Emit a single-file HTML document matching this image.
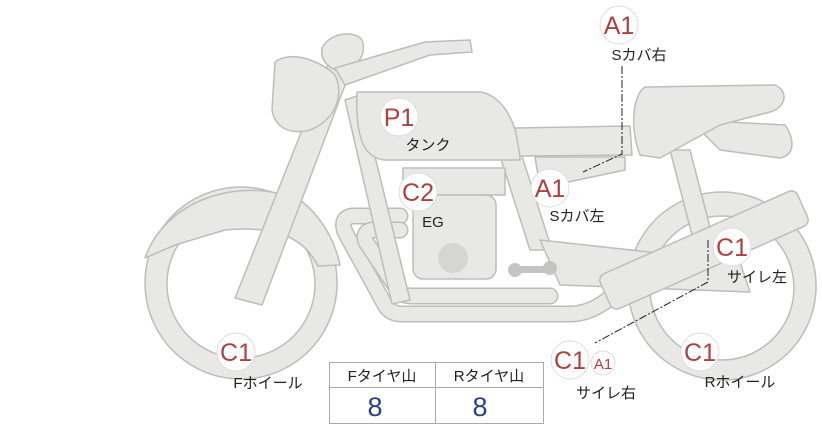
<!DOCTYPE html>
<html><head><meta charset="utf-8"><style>
html,body{margin:0;padding:0;background:#fff;width:822px;height:425px;overflow:hidden}
svg{display:block}
.t{font-family:"Liberation Sans","Noto Sans CJK JP",sans-serif;font-size:15px;fill:#222}
.c{font-family:"Liberation Sans","Noto Sans CJK JP",sans-serif;font-size:25px;fill:#b0403f}
</style></head><body>
<svg width="822" height="425" viewBox="0 0 822 425" xmlns="http://www.w3.org/2000/svg">
<g fill="#e8e8e6" stroke="#bdbdbb" stroke-width="1.5" stroke-linejoin="round">
<path fill-rule="evenodd" d="M722,192a94,94 0 1,0 0.1,0zM722,216a72,72 0 1,1 -0.1,0z"/>
<path fill-rule="evenodd" d="M241,187a96,96 0 1,0 0.1,0zM241,210a74,74 0 1,1 -0.1,0z"/>
<path d="M145,258 C165,200 240,175 300,200 C320,215 335,240 340,265 L318,266 C305,240 280,225 225,230 L175,245 Z"/>
<path d="M670,150 L690,150 L712,235 L692,235 Z"/>
<path d="M498,150 L520,150 L552,250 L530,250 Z"/>
<path d="M540,240 L740,262 L750,292 L560,285 Z"/>
</g>
<g fill="none" stroke-linecap="round" stroke-linejoin="round">
<path d="M400,216 L352,216 Q340,218 345,232 L385,305 Q390,314 402,314 L570,314 Q590,314 610,298" stroke="#bdbdbb" stroke-width="17"/>
<path d="M400,216 L352,216 Q340,218 345,232 L385,305 Q390,314 402,314 L570,314 Q590,314 610,298" stroke="#e8e8e6" stroke-width="14"/>
<path d="M400,230 L372,230 Q362,232 366,242 L398,290 Q402,296 412,296 L550,296" stroke="#bdbdbb" stroke-width="17"/>
<path d="M400,230 L372,230 Q362,232 366,242 L398,290 Q402,296 412,296 L550,296" stroke="#e8e8e6" stroke-width="14"/>
</g>
<g fill="#e8e8e6" stroke="#bdbdbb" stroke-width="1.5" stroke-linejoin="round">
<path d="M345,100 L360,95 L410,300 L392,304 Z"/>
<path d="M330,60 L350,72 L262,305 L235,298 Z"/>
<path d="M275,62 C290,50 320,60 335,75 C345,95 335,120 310,130 C290,135 275,128 272,110 Z"/>
<path d="M322,48 C330,32 355,30 362,40 C368,55 355,70 340,72 C328,68 320,60 322,48 Z"/>
<path d="M335,68 L425,42 L470,40 L472,52 L430,55 L345,85 Z"/>
<path d="M357,92 L480,92 C505,95 520,130 520,160 L385,160 C365,158 355,140 357,92 Z"/>
<rect x="403" y="168" width="102" height="27"/>
<rect x="413" y="195" width="83" height="84" rx="10"/>
<path d="M515,128 L630,126 L632,155 L520,156 Z"/>
<path d="M535,157 L625,157 L625,170 L540,188 Z"/>
<path d="M690,120 L785,125 C795,140 795,155 780,158 L720,150 Z"/>
<path d="M645,87 L775,85 C790,92 785,108 770,112 L720,125 L660,158 L640,155 C630,130 632,95 645,87 Z"/>
<g transform="translate(704,250) rotate(-24)">
<rect x="-108" y="-19" width="216" height="38" rx="7"/>
</g>
</g>
<circle cx="453" cy="258" r="15" fill="#d5d5d3"/>
<g fill="#c4c4c2"><circle cx="515" cy="270" r="7"/><circle cx="550" cy="268" r="7"/><rect x="515" y="266" width="35" height="7"/></g>
<g stroke="#222" stroke-width="1" fill="none">
<path d="M622,66 L622,154 L583,172" stroke-dasharray="8,2,2,2"/>
<path d="M708,240 L708,282 L595,343" stroke-dasharray="8,2,2,2"/>
</g>
<g fill="#fff" stroke="#ddd" stroke-width="1">
<circle cx="399" cy="117" r="19"/><circle cx="418" cy="192" r="19"/>
<circle cx="619" cy="25" r="19"/><circle cx="550" cy="188" r="19"/>
<circle cx="732" cy="247" r="19"/><circle cx="236" cy="352" r="19"/>
<circle cx="570" cy="360" r="19"/><circle cx="603" cy="363" r="12"/>
<circle cx="700" cy="352" r="19"/>
</g>
<g class="c" text-anchor="middle">
<text x="399" y="126">P1</text><text x="418" y="201">C2</text>
<text x="619" y="34">A1</text><text x="550" y="197">A1</text>
<text x="732" y="256">C1</text><text x="236" y="361">C1</text>
<text x="570" y="369">C1</text><text x="603" y="369" style="font-size:15px">A1</text>
<text x="700" y="361">C1</text>
</g>
<g class="t" text-anchor="middle">
<text x="639" y="60">Sカバ右</text>
<text x="428" y="150">タンク</text>
<text x="433" y="227">EG</text>
<text x="577" y="221">Sカバ左</text>
<text x="757" y="282">サイレ左</text>
<text x="268" y="388">Fホイール</text>
<text x="606" y="398">サイレ右</text>
<text x="740" y="387">Rホイール</text>
</g>
<g stroke="#aaa" stroke-width="1" fill="none">
<rect x="329.5" y="362.5" width="214" height="61"/>
<line x1="329" y1="387.5" x2="544" y2="387.5"/>
<line x1="435.5" y1="362" x2="435.5" y2="424"/>
</g>
<g class="t" text-anchor="middle"><text x="382" y="381">Fタイヤ山</text><text x="489" y="381">Rタイヤ山</text></g>
<g text-anchor="middle" style="font-family:'Liberation Sans',sans-serif;font-size:27px;fill:#2d3f8a"><text x="375" y="416">8</text><text x="480" y="416">8</text></g>
</svg>
</body></html>
